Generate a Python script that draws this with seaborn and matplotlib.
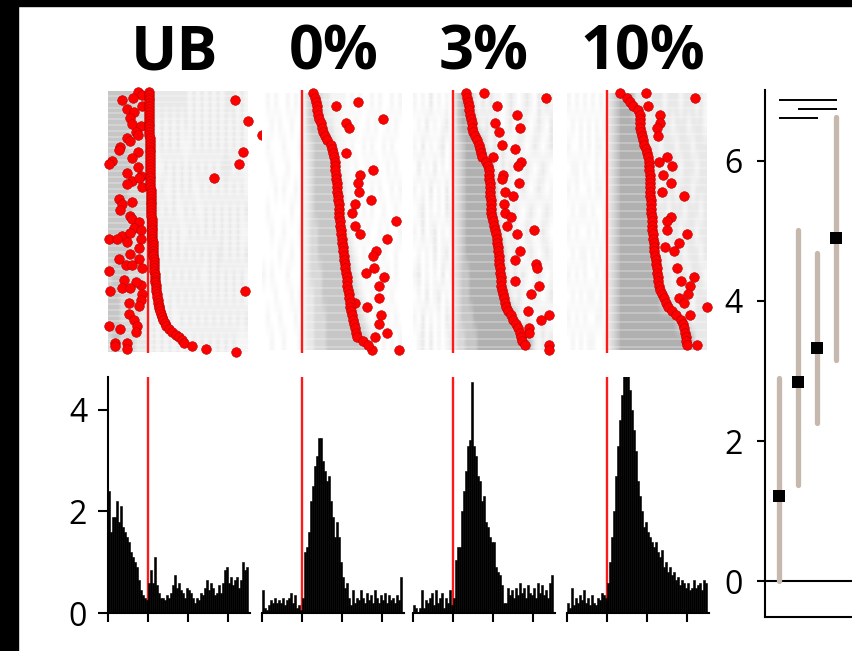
import numpy as np
import pandas as pd
import matplotlib
matplotlib.use("Agg")
import matplotlib.pyplot as plt
import seaborn as sns
from matplotlib.patches import Rectangle

# ---------------- data ----------------
conditions = ["UB", "0%", "3%", "10%"]

# PSTH values (spikes/s, 0.05 s bins from -1 to 2.5 s)
ub_hist = [2.4, 1.6, 1.9, 1.9, 2.2, 1.8, 2.1, 1.7, 1.6, 1.5, 1.4, 1.2, 1.1, 1.0, 0.9, 0.65, 0.45, 0.35, 0.3, 0.25,
           0.6, 0.85, 0.6, 1.1, 0.55, 0.4, 0.3, 0.3, 0.25, 0.35, 0.3, 0.4, 0.55, 0.75, 0.5, 0.6, 0.45, 0.4, 0.3, 0.5,
           0.45, 0.4, 0.3, 0.2, 0.3, 0.25, 0.4, 0.35, 0.5, 0.65, 0.45, 0.6, 0.5, 0.35, 0.4, 0.55, 0.4, 0.6, 0.85, 0.9,
           0.6, 0.7, 0.55, 0.65, 0.7, 0.5, 0.65, 1.0, 0.85, 0.9]
p0_hist = [0.45, 0.1, 0.05, 0.15, 0.25, 0.2, 0.3, 0.2, 0.25, 0.2, 0.3, 0.15, 0.25, 0.3, 0.4, 0.2, 0.35, 0.1, 0.15, 0.05,
           0.3, 1.2, 1.3, 1.6, 2.2, 2.5, 2.9, 3.1, 3.45, 3.45, 3.0, 2.8, 2.6, 2.7, 2.2, 1.9, 1.5, 1.8, 1.5, 1.0,
           0.7, 0.5, 0.6, 0.3, 0.15, 0.45, 0.2, 0.3, 0.25, 0.45, 0.3, 0.2, 0.4, 0.25, 0.35, 0.2, 0.45, 0.3, 0.2, 0.35,
           0.25, 0.4, 0.2, 0.35, 0.25, 0.3, 0.2, 0.35, 0.25, 0.7]
p3_hist = [0.15, 0.1, 0.0, 0.1, 0.45, 0.1, 0.25, 0.2, 0.3, 0.4, 0.15, 0.45, 0.2, 0.3, 0.4, 0.1, 0.3, 0.2, 0.45, 0.15,
           0.3, 1.05, 1.3, 1.3, 2.0, 2.4, 2.8, 3.3, 3.4, 4.55, 3.3, 3.1, 2.7, 2.6, 2.2, 2.3, 1.8, 1.7, 1.5, 1.4,
           1.4, 0.9, 0.8, 0.75, 0.55, 0.2, 0.2, 0.5, 0.35, 0.45, 0.3, 0.5, 0.35, 0.6, 0.4, 0.5, 0.3, 0.55, 0.4, 0.35,
           0.5, 0.3, 0.6, 0.4, 0.55, 0.35, 0.45, 0.3, 0.6, 0.75]
p10_hist = [0.2, 0.1, 0.5, 0.15, 0.3, 0.2, 0.35, 0.25, 0.45, 0.2, 0.3, 0.15, 0.35, 0.2, 0.15, 0.3, 0.25, 0.4, 0.35, 0.3,
            0.6, 1.0, 1.5, 2.0, 2.7, 3.3, 3.8, 4.3, 4.8, 4.7, 4.7, 4.4, 4.0, 3.6, 3.2, 2.6, 2.3, 2.0, 1.7, 1.8,
            1.6, 1.5, 1.4, 1.3, 1.4, 1.2, 1.1, 1.25, 0.9, 1.0, 0.8, 0.9, 0.75, 0.8, 0.65, 0.7, 0.55, 0.65, 0.6, 0.5,
            0.6, 0.45, 0.5, 0.65, 0.5, 0.55, 0.6, 0.45, 0.65, 0.6]

# sorted latency (red curve) per trial, seconds
ub_curve = [0.02, 0.02, 0.02, 0.02, 0.025, 0.025, 0.025, 0.03, 0.03, 0.03, 0.03, 0.03, 0.035, 0.035, 0.035, 0.035, 0.04, 0.04, 0.04, 0.04,
            0.04, 0.045, 0.045, 0.045, 0.05, 0.05, 0.05, 0.05, 0.055, 0.055, 0.055, 0.06, 0.06, 0.06, 0.065, 0.065, 0.07, 0.07, 0.07, 0.075,
            0.075, 0.08, 0.08, 0.085, 0.09, 0.09, 0.095, 0.1, 0.1, 0.105, 0.11, 0.11, 0.115, 0.12, 0.12, 0.125, 0.13, 0.135, 0.14, 0.145,
            0.15, 0.155, 0.16, 0.165, 0.17, 0.18, 0.185, 0.19, 0.2, 0.21, 0.22, 0.23, 0.24, 0.25, 0.27, 0.28, 0.3, 0.32, 0.35, 0.38,
            0.42, 0.46, 0.52, 0.6, 0.7, 0.78, 0.85, 0.9, 1.1, 1.45]
p0_curve = [0.29, 0.33, 0.35, 0.37, 0.39, 0.41, 0.43, 0.47, 0.50, 0.53, 0.57, 0.62, 0.72, 0.76, 0.79, 0.80, 0.82, 0.83, 0.84, 0.85,
            0.86, 0.87, 0.88, 0.89, 0.90, 0.91, 0.92, 0.92, 0.93, 0.94, 0.95, 0.96, 0.98, 0.99, 1.00, 1.01, 1.02, 1.04, 1.05, 1.06,
            1.08, 1.09, 1.10, 1.12, 1.13, 1.14, 1.15, 1.17, 1.18, 1.20, 1.21, 1.23, 1.25, 1.27, 1.30, 1.33, 1.35, 1.38, 1.52, 1.65]
p3_curve = [0.32, 0.34, 0.36, 0.38, 0.40, 0.42, 0.44, 0.46, 0.47, 0.49, 0.53, 0.59, 0.63, 0.67, 0.69, 0.72, 0.82, 0.87, 0.88, 0.89,
            0.90, 0.91, 0.92, 0.92, 0.92, 0.93, 0.93, 0.94, 0.95, 0.96, 0.99, 1.01, 1.04, 1.06, 1.08, 1.10, 1.11, 1.12, 1.13, 1.14,
            1.15, 1.16, 1.17, 1.18, 1.19, 1.20, 1.21, 1.24, 1.26, 1.28, 1.31, 1.36, 1.43, 1.50, 1.57, 1.62, 1.66, 1.68, 1.71, 1.80]
p10_curve = [0.32, 0.50, 0.59, 0.66, 0.79, 0.82, 0.82, 0.83, 0.84, 0.85, 0.87, 0.91, 0.94, 0.97, 1.00, 1.03, 1.05, 1.05, 1.06, 1.07,
             1.08, 1.08, 1.08, 1.09, 1.09, 1.10, 1.11, 1.11, 1.11, 1.12, 1.13, 1.13, 1.14, 1.15, 1.16, 1.17, 1.18, 1.19, 1.20, 1.22,
             1.23, 1.25, 1.26, 1.28, 1.29, 1.31, 1.34, 1.38, 1.42, 1.48, 1.53, 1.62, 1.72, 1.86, 1.91, 1.93, 1.95, 1.97, 1.99, 2.01]

# scattered red markers (time, trial)
ub_sc_t = [-0.24, -0.14, -0.66, -0.37, -0.16, -0.52, -0.35, -0.44, -0.39, -0.18, -0.31, -0.24, -0.52, -0.44, -0.69, -0.73,
           -0.24, -0.39, -0.90, -0.98, -0.24, -0.52, -0.18, -0.39, -0.23, -0.16, -0.52, -0.73, -0.39, -0.65, -0.69, -0.44,
           -0.39, -0.23, -0.35, -0.18, -0.65, -0.44, -0.98, -0.77, -0.18, -0.52, -0.23, -0.44, -0.73, -0.23, -0.56, -0.98,
           -0.39, -0.14, -0.61, -0.18, -0.31, -0.65, -0.94, -0.44, -0.14, -0.18, -0.48, -0.23, -0.48, -0.35, -0.98, -0.69,
           -0.27, -0.31, -0.82, -0.52, -0.82, -0.52,
           2.17, 2.50, 2.85, 2.38, 2.28, 1.65, 2.42, 2.19]
ub_sc_row = [0, 1, 3, 2, 5, 6, 7, 9, 11, 12, 14, 15, 16, 17, 19, 20,
             21, 23, 24, 25, 26, 28, 29, 31, 30, 33, 32, 37, 38, 39, 41, 43,
             44, 45, 47, 48, 50, 49, 51, 51, 51, 52, 54, 56, 58, 58, 60, 62,
             60, 61, 65, 67, 66, 68, 69, 68, 70, 72, 73, 74, 77, 79, 81, 82,
             81, 83, 87, 87, 88, 89,
             3, 10, 15, 21, 25, 30, 69, 90]
p0_sc_t = [1.40, 0.86, 2.02, 1.11, 1.18, 1.11, 1.78, 1.46, 1.40, 1.43, 1.72, 1.32, 1.26, 2.35, 1.34, 1.46,
           2.14, 1.85, 1.78, 1.80, 1.60, 2.06, 1.93, 1.93, 1.34, 1.63, 1.99, 1.92, 2.12, 1.82, 1.76, 2.43]
p0_sc_row = [2, 3, 6, 7, 8, 14, 18, 19, 21, 23, 25, 26, 28, 30, 31, 33,
             34, 37, 38, 41, 42, 43, 45, 48, 49, 50, 52, 54, 56, 57, 60, 60]
p3_sc_t = [0.77, 2.31, 1.08, 1.60, 1.03, 1.66, 1.13, 1.22, 1.55, 0.99, 1.68, 1.61, 1.24, 1.22, 1.64, 1.30,
           1.50, 1.26, 1.30, 1.43, 1.34, 2.02, 1.58, 1.66, 1.55, 2.06, 2.08, 1.53, 2.14, 1.95, 1.87, 2.39,
           2.20, 1.89, 1.89, 2.39, 2.39]
p3_sc_row = [0, 1, 3, 5, 7, 8, 9, 12, 13, 15, 16, 17, 19, 20, 21, 23,
             24, 26, 28, 29, 31, 32, 33, 37, 39, 40, 41, 44, 45, 47, 51, 52,
             53, 55, 56, 59, 60]
p10_sc_t = [0.97, 2.20, 1.03, 1.33, 1.34, 1.26, 1.28, 1.51, 1.30, 1.62, 1.41, 1.61, 1.39, 1.93, 1.61, 1.50,
            1.50, 2.00, 1.81, 1.45, 1.68, 1.76, 2.17, 1.85, 2.08, 2.02, 1.81, 1.93, 2.50, 2.08, 2.25]
p10_sc_row = [0, 1, 3, 5, 7, 8, 10, 15, 16, 17, 19, 21, 23, 24, 29, 30,
              32, 33, 35, 36, 37, 41, 43, 44, 45, 47, 48, 49, 50, 52, 59]

# raster spike density (12 trial bands x 35 time bins of 0.1 s), pre | post
ub_raster = [("4444443333", "2222222222121212121222121"), ("4444444333", "1212121212121212121212121"),
             ("4444433333", "1212121211121212121212121"), ("4444443333", "1111212121212121212221211"),
             ("4444433333", "1212112121211212121212121"), ("4444443333", "1121212112121121212121212"),
             ("4444433332", "1212121211212121212121211"), ("4444433332", "1112121212121212122121212"),
             ("3444433332", "1211212121212112121212121"), ("4443333322", "1212121212121212121212121"),
             ("4443333322", "1212121121212121212121212"), ("3443333222", "1212121212121212121212111")]
p0_raster = [("0101001010", "1344322111101010010100101"), ("0010100100", "1344432211010100101001010"),
             ("0100010001", "1234444321101001010010100"), ("0010001000", "1234444432110100101001010"),
             ("0001010010", "1234444443211010010100101"), ("0100000100", "1234444444211001010010010"),
             ("0010010001", "1233444444321010100101001"), ("0000100100", "1233444444432101001010010"),
             ("1010001000", "1233344444443210100101010"), ("0001000101", "1223344444444321010010100"),
             ("0100100010", "1223334444444432101001010"), ("0010010001", "1223334444444444321010101")]
p3_raster = [("1010201010", "2455421212110121012102121"), ("0102010120", "2455542121210120121012102"),
             ("1020101201", "2345555421212101210121012"), ("0201020101", "2345555554212121012101210"),
             ("1010201020", "2345555555421210121012101"), ("0120101021", "2345555555421212101210121"),
             ("1020120101", "2345555555542121012101210"), ("0101020120", "2345555555554212101210121"),
             ("1201010201", "2344555555554212121012101"), ("0102012010", "2344555555555421210121012"),
             ("1020101021", "2344455555555554212101210"), ("0120201012", "2334445555555555555421212")]
p10_raster = [("1010101010", "2345554222122212221222121"), ("0101010101", "2345555542221222122212221"),
              ("1001010110", "2345555554222122212221222"), ("0110100101", "2345555555422212221222122"),
              ("1010010110", "2345555555422122212221222"), ("0101101001", "2345555555542221222122212"),
              ("1010010101", "2345555555542212221222122"), ("0101101010", "2345555555542221222122212"),
              ("1010100101", "2345555555554222122212221"), ("0101011010", "2345555555555422212221222"),
              ("1010100110", "2345555555555555542221222"), ("0101011001", "2345555555555555555554222")]

# summary panel
summary_x = [1, 2, 3, 4]
summary_mean = [1.22, 2.85, 3.33, 4.90]
summary_lo = [0.0, 1.37, 2.26, 3.16]
summary_hi = [2.90, 5.01, 4.69, 6.62]
sig_y = [6.87, 6.74, 6.61]
sig_x0 = [1, 2, 1]
sig_x1 = [4.05, 4.05, 3.05]

hists = [ub_hist, p0_hist, p3_hist, p10_hist]
curves = [ub_curve, p0_curve, p3_curve, p10_curve]
sc_t = [ub_sc_t, p0_sc_t, p3_sc_t, p10_sc_t]
sc_row = [ub_sc_row, p0_sc_row, p3_sc_row, p10_sc_row]
rasters = [ub_raster, p0_raster, p3_raster, p10_raster]

# ---------------- style ----------------
sns.set_theme(style="white")
plt.rcParams['font.family'] = ['Open Sans', 'DejaVu Sans']

W, H = 852, 651
fig = plt.figure(figsize=(W / 100, H / 100), dpi=100)
fig.patch.set_facecolor('white')


def add_ax(x0, y0, x1, y1):
    return fig.add_axes([x0 / W, 1 - y1 / H, (x1 - x0) / W, (y1 - y0) / H])


# black frame strips
fig.patches.append(Rectangle((0, 0), 18 / W, 1, transform=fig.transFigure, color='black', zorder=10))
fig.patches.append(Rectangle((0, 1 - 6 / H), 1, 6 / H, transform=fig.transFigure, color='black', zorder=10))

lefts = [108, 261.7, 413.3, 566.7]
title_cx = [174, 334, 484, 643]
px_per_s = 40.0
XMIN, XMAX = -1.0, 2.55
panel_w = (XMAX - XMIN) * px_per_s

BIN_W = 0.05
bin_centers = [round(-1.0 + BIN_W * (k + 0.5), 4) for k in range(70)]

for i, cond in enumerate(conditions):
    x0 = lefts[i]
    # ---------- raster ----------
    axr = add_ax(x0, 90, x0 + panel_w, 353)
    n = len(curves[i])
    grid = []
    for pre, post in rasters[i]:
        s = (pre + post)[:35].ljust(35, '0')
        grid.append([int(c) for c in s])
    grid = np.array(grid, dtype=float)
    axr.imshow(grid, extent=(-1.0, 2.5, n, 0), cmap='Greys', vmin=0, vmax=12,
               aspect='auto', interpolation='bilinear', zorder=0)
    # thin white gaps between trial rows (raster texture)
    for r in range(0, n + 1, 2):
        axr.axhline(r - 0.5, color='white', lw=0.35, zorder=0.5)
    axr.axvline(0, color='#ff1a1a', lw=1.7, zorder=1)
    df_c = pd.DataFrame({'t': curves[i], 'row': np.arange(n)})
    df_s = pd.DataFrame({'t': sc_t[i], 'row': sc_row[i]})
    for df in (df_s, df_c):
        sns.scatterplot(data=df, x='t', y='row', ax=axr, color='#ff0000', s=48,
                        edgecolor='#b00000', linewidth=0.4, zorder=3, clip_on=False, legend=False)
    axr.set_xlim(XMIN, XMAX)
    if n == 90:
        axr.set_ylim(90.4, -0.6)
    else:
        axr.set_ylim(60.8, -0.8)
    axr.axis('off')

    # ---------- PSTH ----------
    axh = add_ax(x0, 377, x0 + panel_w, 613)
    axh.axvline(0, color='#ff1a1a', lw=1.7, zorder=1)
    df_h = pd.DataFrame({'t': bin_centers, 'rate': hists[i]})
    sns.histplot(data=df_h, x='t', weights='rate', binwidth=BIN_W, binrange=(-1.0, 2.5),
                 ax=axh, color='black', edgecolor='black', linewidth=0.4, alpha=1.0, zorder=2)
    axh.set_xlim(XMIN, XMAX)
    axh.set_ylim(0, 4.65)
    axh.set_xlabel('')
    axh.set_ylabel('')
    axh.set_xticks([-1, 0, 1, 2])
    axh.tick_params(axis='x', bottom=True, direction='out', length=6.5, width=1.5,
                    labelbottom=False, color='black')
    for sp in ['top', 'right']:
        axh.spines[sp].set_visible(False)
    axh.spines['bottom'].set_linewidth(1.5)
    axh.spines['bottom'].set_color('black')
    if i == 0:
        axh.spines['left'].set_linewidth(1.5)
        axh.spines['left'].set_color('black')
        axh.set_yticks([0, 2, 4])
        axh.set_yticklabels(['0', '2', '4'])
        axh.tick_params(axis='y', left=True, direction='out', length=7, width=1.5,
                        labelsize=23, pad=8, color='black', labelcolor='black')
    else:
        axh.spines['left'].set_visible(False)
        axh.set_yticks([])
    axh.set_facecolor('none')

    # ---------- title ----------
    fig.text(title_cx[i] / W, 1 - 70 / H, cond, ha='center', va='baseline',
             fontsize=44, fontweight='bold', color='black')

# ---------- summary panel ----------
axs = add_ax(765, 90, 852, 617)
axs.axhline(0, color='black', lw=1.5, zorder=1)
lc = axs.vlines(summary_x, summary_lo, summary_hi, color='#c6b8ad', lw=3.8, zorder=2)
lc.set_capstyle('round')
df_m = pd.DataFrame({'x': summary_x, 'm': summary_mean})
sns.scatterplot(data=df_m, x='x', y='m', ax=axs, marker='s', s=80, color='black',
                edgecolor='black', linewidth=0, zorder=3, legend=False)
axs.hlines(sig_y, sig_x0, sig_x1, color='black', lw=1.4, zorder=3)
axs.set_xlim(0.29, 4.82)
axs.set_ylim(-0.51, 7.01)
axs.set_xlabel('')
axs.set_ylabel('')
axs.set_xticks([])
axs.set_yticks([0, 2, 4, 6])
axs.set_yticklabels(['0', '2', '4', '6'])
axs.tick_params(axis='y', left=True, direction='out', length=6, width=1.5,
                labelsize=23, pad=10, color='black', labelcolor='black')
for sp in ['top', 'right']:
    axs.spines[sp].set_visible(False)
for sp in ['left', 'bottom']:
    axs.spines[sp].set_linewidth(1.5)
    axs.spines[sp].set_color('black')
axs.set_facecolor('none')

fig.savefig('out.png', dpi=100, facecolor='white')
